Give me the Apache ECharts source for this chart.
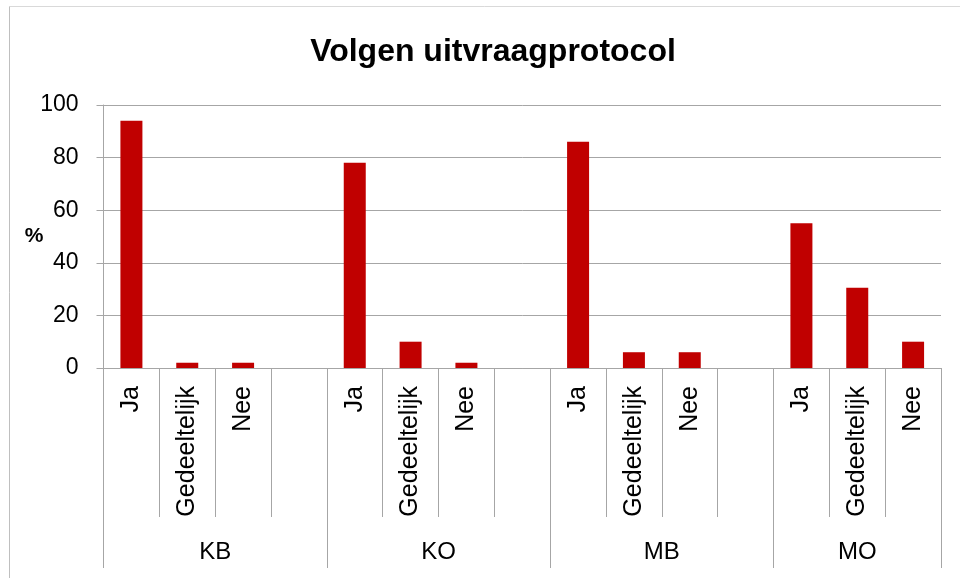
<!DOCTYPE html>
<html>
<head>
<meta charset="utf-8">
<title>Volgen uitvraagprotocol</title>
<script src="https://cdn.jsdelivr.net/npm/echarts@6/dist/echarts.min.js"></script>
<style>
  html, body { margin: 0; padding: 0; background: #fff; }
  #chart { width: 960px; height: 578px; }
</style>
</head>
<body>
<div id="chart"></div>
<script>
// answers per slot, empty slot between groups
const answers = ['Ja', 'Gedeeltelijk', 'Nee', '', 'Ja', 'Gedeeltelijk', 'Nee', '', 'Ja', 'Gedeeltelijk', 'Nee', '', 'Ja', 'Gedeeltelijk', 'Nee']
const percentages = [94, 2, 2, null, 78, 10, 2, null, 86, 6, 6, null, 55, 30.5, 10]

// groups on the second axis: name, centre and borders in slot units
const groups = ['KB', 'KO', 'MB', 'MO']
const groupCenters = [2, 6, 10, 13.5]
const groupBorders = [0, 4, 8, 12, 15]

const yTicks = [0, 20, 40, 60, 80, 100]

const font = 'Liberation Sans, Arial, sans-serif'
const gray = '#a6a6a6'

const chart = echarts.init(document.getElementById('chart'))

chart.setOption({
  animation: false,
  backgroundColor: '#fff',
  title: {
    text: 'Volgen uitvraagprotocol',
    left: 488,
    top: 31,
    textAlign: 'center',
    textStyle: { fontFamily: font, fontSize: 32, fontWeight: 'bold', color: '#000' }
  },
  graphic: [
    { type: 'line', shape: { x1: 9.5, y1: 6.5, x2: 960, y2: 6.5 }, style: { stroke: '#d9d9d9', lineWidth: 1 } },
    { type: 'line', shape: { x1: 9.5, y1: 6.5, x2: 9.5, y2: 578 }, style: { stroke: '#bfbfbf', lineWidth: 1 } }
  ],
  grid: {
    left: 103.5,
    right: 19,
    top: 105,
    bottom: 210,
    containLabel: false,
    outerBoundsMode: 'none'
  },
  xAxis: [
    {
      type: 'category',
      position: 'bottom',
      data: answers,
      axisLine: { lineStyle: { color: gray } },
      axisTick: { show: true, interval: 0, length: 149, lineStyle: { color: gray } },
      axisLabel: {
        interval: 0,
        rotate: 90,
        margin: 18,
        fontFamily: font,
        fontSize: 25,
        color: '#000'
      }
    },
    {
      type: 'value',
      position: 'bottom',
      min: 0,
      max: 15,
      axisLine: { show: false },
      splitLine: { show: false },
      axisTick: {
        show: true,
        length: 200,
        customValues: groupBorders,
        lineStyle: { color: gray }
      },
      axisLabel: {
        customValues: groupCenters,
        margin: 172,
        fontFamily: font,
        fontSize: 24,
        color: '#000',
        formatter: function (v) {
          const i = groupCenters.indexOf(v)
          return i >= 0 ? groups[i] : ''
        }
      }
    }
  ],
  yAxis: {
    type: 'value',
    min: yTicks[0],
    max: yTicks[yTicks.length - 1],
    interval: 20,
    name: '%',
    nameLocation: 'middle',
    nameRotate: 0,
    nameGap: 60,
    nameMoveOverlap: false,
    nameTextStyle: { fontFamily: font, fontSize: 21, fontWeight: 'bold', color: '#000' },
    axisLine: { show: true, lineStyle: { color: gray } },
    axisTick: { show: true, length: 7, lineStyle: { color: gray } },
    splitLine: { lineStyle: { color: gray } },
    axisLabel: { margin: 25, fontFamily: font, fontSize: 23, color: '#000' }
  },
  series: [
    {
      type: 'bar',
      xAxisIndex: 0,
      data: percentages,
      barWidth: 22,
      itemStyle: { color: '#c00000' }
    }
  ]
})
</script>
</body>
</html>
